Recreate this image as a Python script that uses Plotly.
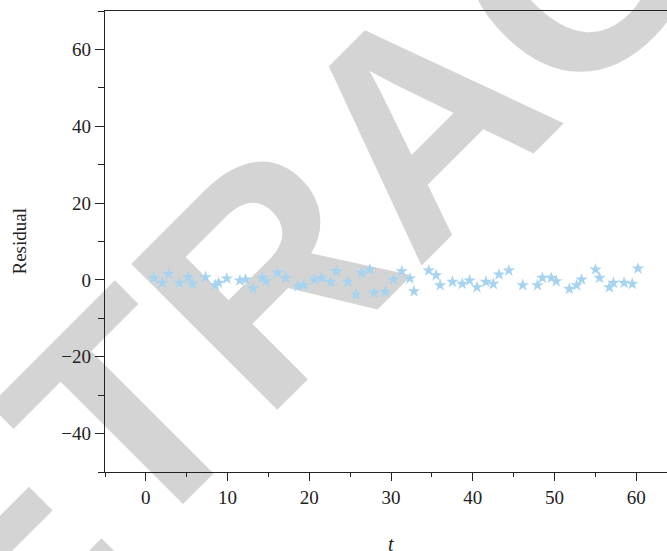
import plotly.graph_objects as go

# Time points and residuals
t = [1.0, 2.0, 2.8, 4.1, 5.2, 5.7, 7.3, 8.5, 8.9, 9.9,
     11.5, 12.2, 13.1, 14.2, 14.7, 16.1, 17.1, 18.6, 19.3, 20.6,
     21.5, 22.6, 23.3, 24.7, 25.7, 26.4, 27.4, 27.9, 29.3, 30.3,
     31.3, 32.3, 32.8, 34.6, 35.5, 36.0, 37.5, 38.7, 39.6, 40.5,
     41.6, 42.5, 43.2, 44.4, 46.1, 47.9, 48.5, 49.6, 50.2, 51.8,
     52.7, 53.3, 55.0, 55.5, 56.7, 57.2, 58.5, 59.5, 60.2]
residual = [0.53, -0.77, 1.57, -0.77, 0.69, -1.03, 0.69, -1.39, -0.77, 0.35,
            -0.17, 0.09, -2.25, 0.53, -0.35, 1.83, 0.53, -1.65, -1.39, 0.09,
            0.53, -0.51, 2.25, -0.51, -3.81, 1.83, 2.69, -3.37, -3.11, 0.09,
            2.25, 0.35, -2.95, 2.43, 1.21, -1.39, -0.51, -1.03, -0.17, -1.91,
            -0.51, -1.03, 1.39, 2.43, -1.39, -1.39, 0.53, 0.53, -0.35, -2.33,
            -1.39, 0.09, 2.69, 0.53, -1.91, -0.77, -0.77, -1.03, 2.95]

x_ticks = [0, 10, 20, 30, 40, 50, 60]
y_ticks = [-40, -20, 0, 20, 40, 60]
x_range = [-5, 63.75]
y_range = [-50, 70]

SERIF = "Liberation Serif"
AXIS_COLOR = "#222222"

fig = go.Figure()
fig.add_trace(go.Scatter(
    x=t, y=residual, mode="markers",
    marker=dict(symbol="star", size=9.5, color="#a6d3ef", line=dict(width=0)),
    showlegend=False, hoverinfo="skip",
))

# Watermark (drawn beneath the data)
cx, cy = 0.524, 0.805
fig.add_shape(
    type="rect", xref="paper", yref="paper",
    x0=cx - 0.01, x1=cx + 0.01, y0=cy - 0.01, y1=cy + 0.01,
    line=dict(width=0), fillcolor="rgba(0,0,0,0)", layer="below",
    label=dict(text="RETRACTED", textangle=-45, textposition="middle center",
               font=dict(family="Liberation Sans", size=300, color="#d4d4d4", weight="bold")),
)

fig.update_layout(
    width=667, height=551,
    margin=dict(l=105, r=0, t=11, b=79, autoexpand=False),
    paper_bgcolor="white", plot_bgcolor="rgba(0,0,0,0)",
    font=dict(family=SERIF, size=19, color="#222222"),
    xaxis=dict(range=x_range, tickvals=x_ticks, ticks="outside", ticklen=8, tickwidth=1.2,
               tickcolor=AXIS_COLOR, showline=True, linecolor=AXIS_COLOR, linewidth=1.3,
               mirror=True, showgrid=False, zeroline=False, automargin=False,
               minor=dict(dtick=5, tick0=0, ticks="outside", ticklen=4, tickcolor=AXIS_COLOR, tickwidth=1.2)),
    yaxis=dict(range=y_range, tickvals=y_ticks, ticks="outside", ticklen=9, tickwidth=1.2,
               tickcolor=AXIS_COLOR, showline=True, linecolor=AXIS_COLOR, linewidth=1.3,
               showgrid=False, zeroline=False, tickformat="d", automargin=False,
               minor=dict(dtick=10, tick0=0, ticks="outside", ticklen=6, tickcolor=AXIS_COLOR, tickwidth=1.2)),
    annotations=[
        dict(text="Residual", xref="paper", yref="paper", x=-0.153, y=0.5,
             xanchor="center", yanchor="middle", textangle=-90, showarrow=False,
             font=dict(family=SERIF, size=19, color="#222222")),
        dict(text="t", xref="x", yref="paper", x=30, y=-0.156,
             xanchor="center", yanchor="middle", showarrow=False,
             font=dict(family=SERIF, size=20, color="#222222", style="italic")),
    ],
)

# Remove the default page margin so the 667x551 figure fills the window exactly
fig.write_html("out.html", config={"displayModeBar": False},
               post_script="document.body.style.margin='0';document.body.style.overflow='hidden';")
